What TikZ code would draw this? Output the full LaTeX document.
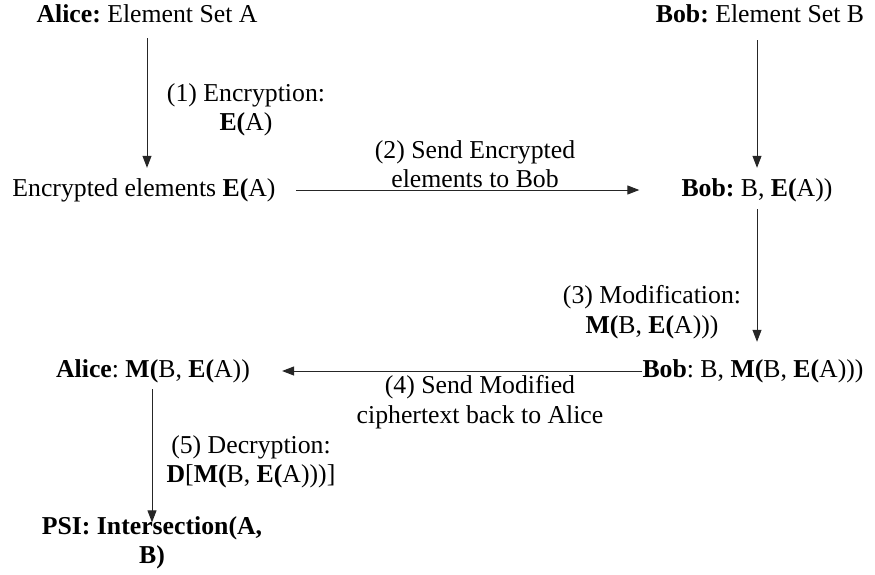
\documentclass[tikz,border=0pt]{standalone}
\usepackage{fontspec}
\setmainfont{Liberation Serif}
\usetikzlibrary{arrows.meta}
\frenchspacing

\begin{document}
\begin{tikzpicture}
[x=1pt,y=-1pt,%
  lineDecorate/.style={-{Triangle[length=12pt,width=9pt]},line width=1pt,draw=black!85},%
  partyDecorate/.style={inner sep=0pt,anchor=base,text height=18pt,text depth=6pt},%
  labelDecorate/.style={inner sep=0pt,align=center}]
\fontsize{25.75}{29.5}\selectfont
\useasboundingbox (0,0) rectangle (875,574);
%% party nodes
\node[partyDecorate] (aliceA) at (147,22) {\textbf{Alice:} Element Set A};
\node[partyDecorate] (bobB) at (760,22) {\textbf{Bob:} Element Set B};
\node[partyDecorate] (aliceE) at (144,196) {Encrypted elements \textbf{E(}A)};
\node[partyDecorate] (bobE) at (757,196) {\textbf{Bob:} B, \textbf{E(}A))};
\node[partyDecorate] (bobM) at (753,377) {\textbf{Bob}: B, \textbf{M(}B, \textbf{E(}A)))};
\node[partyDecorate] (aliceM) at (153,377) {\textbf{Alice}: \textbf{M(}B, \textbf{E(}A))};
\node[labelDecorate,font=\bfseries] (psi) at (152,543) {PSI: Intersection(A,\\B)};
%% step labels
\node[labelDecorate] (lblEnc) at (246,110) {(1) Encryption:\\\textbf{E(}A)};
\node[labelDecorate] (lblSend) at (475,164) {(2) Send Encrypted\\elements to Bob};
\node[labelDecorate] (lblMod) at (652,312) {(3) Modification:\\\textbf{M(}B, \textbf{E(}A)))};
\node[labelDecorate] (lblBack) at (480,402) {(4) Send Modified\\ciphertext back to Alice};
\node[labelDecorate] (lblDec) at (251,462) {(5) Decryption:\\\textbf{D}[\textbf{M(}B, \textbf{E(}A)))]};
%% message flow
\draw[lineDecorate,shorten <=10pt,shorten >=10pt] (aliceA.south) -- (aliceA.south |- aliceE.north);
\draw[lineDecorate,shorten <=12pt,shorten >=10pt] (bobB.south -| bobE.north) -- (bobE.north);
\draw[lineDecorate,shorten <=20pt,shorten >=42pt] (aliceE.east) -- (aliceE.east -| bobE.west);
\draw[lineDecorate,shorten <=7pt,shorten >=17pt] (bobE.south) -- (bobE.south |- bobM.north);
\draw[lineDecorate,shorten >=32pt] (bobM.west) -- (bobM.west -| aliceM.east);
\draw[lineDecorate,shorten <=6pt,shorten >=-6pt] (aliceM.south -| psi.north) -- (psi.north);
\end{tikzpicture}
\end{document}
